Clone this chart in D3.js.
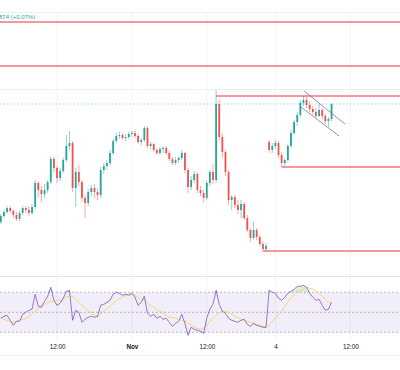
<!DOCTYPE html>
<html><head><meta charset="utf-8">
<script src="https://cdn.jsdelivr.net/npm/d3@7"></script>
<style>html,body{margin:0;padding:0;background:#fff;overflow:hidden}svg{display:block;font-family:"Liberation Sans",Arial,sans-serif}</style>
</head><body><svg id="c" width="400" height="370"></svg>
<script>
// 30-minute EURUSD candles; first slot = Oct 31 03:00, slot 0 = Oct 31 12:00
const slotStart = -18;
const open = [1.0839,1.0842,1.0844,1.0846,1.08445,1.08425,1.08405,1.08435,1.0846,1.0845,
 1.08435,1.08465,1.08585,1.0855,1.0853,1.0855,1.0859,1.08705,1.0866,1.0861,
 1.08645,1.087,1.0877,1.08785,1.0856,1.0864,1.0859,1.0851,1.08485,1.0854,
 1.0856,1.0854,1.08525,1.0865,1.0867,1.08685,1.08735,1.08795,1.0882,1.08825,
 1.0881,1.08815,1.0883,1.08835,1.0882,1.0879,1.088,1.0886,1.0877,1.0878,
 1.0875,1.08735,1.08755,1.0876,1.08735,1.08705,1.08685,1.087,1.0871,1.08735,
 1.0865,1.08565,1.086,1.0863,1.0855,1.08535,1.0851,1.08585,1.0864,1.086,
 1.0898,1.08815,1.0874,1.0864,1.085,1.08515,1.08475,1.0845,1.0848,1.0841,
 1.0835,1.0831,1.0835,1.08315,1.0828,1.08255,
 1.0879,1.0875,1.0877,1.08785,1.08725,1.08685,1.087,1.0877,1.08835,1.0889,
 1.08925,1.08985,1.09,1.08975,1.08955,1.0894,1.0892,1.0895,1.0892,1.08895,1.08905];
const high = [1.0843,1.0845,1.0847,1.0847,1.08455,1.0844,1.08445,1.0847,1.0847,1.0847,
 1.0848,1.086,1.08595,1.0857,1.0858,1.086,1.0872,1.08715,1.0867,1.0866,
 1.0871,1.08825,1.08845,1.08795,1.0866,1.08675,1.086,1.08525,1.08555,1.08575,
 1.0858,1.0856,1.08665,1.08685,1.087,1.0875,1.08805,1.08835,1.0884,1.08835,
 1.0883,1.0884,1.08845,1.08845,1.0883,1.0881,1.0887,1.0887,1.0879,1.08785,
 1.0876,1.08765,1.0877,1.0877,1.08745,1.08715,1.08715,1.0872,1.0875,1.0874,
 1.0866,1.0862,1.08645,1.0864,1.0857,1.0855,1.08595,1.0865,1.0868,1.0905,
 1.09,1.08835,1.0875,1.0865,1.08525,1.08525,1.085,1.085,1.0849,1.08425,
 1.0836,1.0839,1.0836,1.08325,1.08295,1.08285,
 1.088,1.08785,1.088,1.08795,1.0874,1.0871,1.0878,1.0885,1.089,1.0894,
 1.09,1.0902,1.09015,1.08995,1.0897,1.0896,1.0898,1.0896,1.0893,1.08915,1.08985];
const low = [1.0838,1.0841,1.0843,1.08435,1.0841,1.08395,1.08395,1.08425,1.08435,1.0842,
 1.08425,1.08455,1.0851,1.0849,1.0851,1.08535,1.0858,1.0864,1.08585,1.08595,
 1.08635,1.0869,1.0875,1.0854,1.08465,1.0857,1.0849,1.0841,1.0847,1.0852,
 1.0851,1.085,1.0851,1.0863,1.0865,1.08675,1.08725,1.08785,1.08805,1.088,
 1.08795,1.08805,1.08815,1.0881,1.0878,1.08775,1.0879,1.0876,1.08755,1.0874,
 1.08725,1.08725,1.08735,1.08725,1.08695,1.08675,1.08675,1.08685,1.087,1.08635,
 1.08535,1.0855,1.08585,1.08535,1.0852,1.0849,1.085,1.0857,1.0858,1.08585,
 1.088,1.0871,1.0862,1.08475,1.0845,1.0846,1.0843,1.0841,1.084,1.0834,
 1.0829,1.083,1.083,1.0827,1.08245,1.08245,
 1.08735,1.08735,1.08755,1.0871,1.08665,1.0867,1.0869,1.0876,1.08825,1.0887,
 1.08915,1.0897,1.0896,1.0894,1.08925,1.0891,1.08915,1.08905,1.0888,1.08865,1.08895];
const close = [1.0842,1.0844,1.0846,1.08445,1.08425,1.08405,1.08435,1.0846,1.0845,1.08435,
 1.08465,1.08585,1.0855,1.0853,1.0855,1.0859,1.08705,1.0866,1.0861,1.08645,
 1.087,1.0877,1.08785,1.0856,1.0864,1.0859,1.0851,1.08485,1.0854,1.0856,
 1.0854,1.08525,1.0865,1.0867,1.08685,1.08735,1.08795,1.0882,1.08825,1.0881,
 1.08815,1.0883,1.08835,1.0882,1.0879,1.088,1.0886,1.0877,1.0878,1.0875,
 1.08735,1.08755,1.0876,1.08735,1.08705,1.08685,1.087,1.0871,1.08735,1.0865,
 1.08565,1.086,1.0863,1.0855,1.08535,1.0851,1.08585,1.0864,1.086,1.0898,
 1.08815,1.0874,1.0864,1.085,1.08515,1.08475,1.0845,1.0848,1.0841,1.0835,
 1.0831,1.0835,1.08315,1.0828,1.08255,1.0827,
 1.0875,1.0877,1.08785,1.08725,1.08685,1.087,1.0877,1.08835,1.0889,1.08925,
 1.08985,1.09,1.08975,1.08955,1.0894,1.0892,1.0895,1.0892,1.08895,1.08905,1.0898];
const rsi = [44,46,47,42,37,41,41,48,50,52,
 53,68,56,55,61,66,75,62,57,59,
 64,71,72,42,52,50,40,43,45,46,
 45,46,57,58,60,62,68,70,69,67,
 68,67,69,65,57,60,66,49,46,48,
 44,46,43,44,40,36,39,41,48,39,
 27,35,33,32,31,29,44,53,58,72,
 58,51,49,44,42,41,40,42,43,38,
 36,39,37,36,35,35,
 72,70,69,64,62,65,69,71,73,76,
 76,77,75,69,65,62,63,57,52,53,60];
const rsiMa = [45,43,42,41,40,41,42,43,44,46,
 49,51,54,56,58,60,61,61,62,62,
 64,65,66,66,63,60,57,54,51,49,
 47,46,48,51,54,56,59,61,64,65,
 67,68,68,67,65,63,62,59,57,55,
 52,51,49,47,45,45,44,43,42,41,
 39,37,35,34,33,34,37,41,44,47,
 49,51,51,50,48,46,45,43,42,41,
 40,39,38,37,36,35,
 37,41,44,48,51,56,60,64,67,70,
 72,73,75,74,73,71,69,66,63,60,59];
const tickSlots = [0,24,48,70,94];
const tickLabels = ["12:00","Nov","12:00","4","12:00"];
const levelPrices = [1.0939,1.0917,1.0902,1.08665,1.08245];
const levelStartSlots = [-19,-19,51,72,66];
const channelUpper = [[79.2,1.09045],[92.3,1.0888]];
const channelLower = [[78.2,1.08965],[90.4,1.0882]];
const gridPrices = [1.0944,1.09055];
const rsiLevels = [70,50,30];
const legendText = "874 (+0.07%)";

const svg = d3.select("#c");
const W = 400;
const x = d3.scaleLinear().domain([-18.27,109.94]).range([0,W]);
const y = d3.scaleLinear().domain([1.0812,1.0950]).range([276,0]);
const ry = d3.scaleLinear().domain([30,70]).range([332.3,292.3]);
const UP = "#26a69a", DN = "#ef5350";

const candles = open.map((o,i)=>({s:slotStart+i,o,h:high[i],l:low[i],c:close[i],r:rsi[i],m:rsiMa[i]}));

svg.append("rect").attr("width",W).attr("height",370).attr("fill","#fff");
// vertical grid
svg.append("g").selectAll("line").data(tickSlots).join("line")
  .attr("x1",d=>x(d)).attr("x2",d=>x(d)).attr("y1",12).attr("y2",340)
  .attr("stroke","#f0f3fa").attr("stroke-width",1);
// horizontal grid
svg.append("g").selectAll("line").data(gridPrices).join("line")
  .attr("x1",0).attr("x2",W).attr("y1",d=>Math.round(y(d))+0.5).attr("y2",d=>Math.round(y(d))+0.5)
  .attr("stroke","#eceff4").attr("stroke-width",1);
// separators
svg.append("line").attr("x1",0).attr("x2",W).attr("y1",276.5).attr("y2",276.5).attr("stroke","#e0e3eb");
svg.append("line").attr("x1",0).attr("x2",W).attr("y1",355.5).attr("y2",355.5).attr("stroke","#eceff4");

svg.append("defs").html('<clipPath id="mp"><rect x="0" y="12" width="400" height="264"/></clipPath><clipPath id="rp"><rect x="0" y="277" width="400" height="63"/></clipPath>');
const main = svg.append("g").attr("clip-path","url(#mp)");

// level lines
main.append("g").selectAll("line").data(levelPrices).join("line")
  .attr("x1",(d,i)=>x(levelStartSlots[i])).attr("x2",W)
  .attr("y1",d=>y(d)).attr("y2",d=>y(d))
  .attr("stroke","#f23645").attr("stroke-opacity",0.7).attr("stroke-width",1.5);

// current price line
const last = close[close.length-1];
main.append("line").attr("x1",0).attr("x2",W).attr("y1",y(last)).attr("y2",y(last))
  .attr("stroke",UP).attr("stroke-opacity",0.4).attr("stroke-dasharray","1.5,2");

// candles
const cg = main.append("g");
cg.selectAll("line").data(candles).join("line")
  .attr("x1",d=>x(d.s)).attr("x2",d=>x(d.s)).attr("y1",d=>y(d.h)).attr("y2",d=>y(d.l))
  .attr("stroke",d=>d.c>=d.o?UP:DN).attr("stroke-opacity",0.5).attr("stroke-width",1);
cg.selectAll("rect").data(candles).join("rect")
  .attr("x",d=>x(d.s)-0.9).attr("width",1.8)
  .attr("y",d=>y(Math.max(d.o,d.c))).attr("height",d=>Math.max(1,Math.abs(y(d.o)-y(d.c))))
  .attr("fill",d=>d.c>=d.o?UP:DN);

// channel
[channelUpper,channelLower].forEach(ch=>{
  main.append("line").attr("x1",x(ch[0][0])).attr("y1",y(ch[0][1])).attr("x2",x(ch[1][0])).attr("y2",y(ch[1][1]))
    .attr("stroke","#787b86").attr("stroke-opacity",0.8).attr("stroke-width",1);
});

// legend text
svg.append("text").attr("x",-1).attr("y",18.5).attr("font-size",6).attr("fill",UP).text(legendText);

// RSI pane
const rp = svg.append("g").attr("clip-path","url(#rp)");
rp.append("rect").attr("x",0).attr("width",W).attr("y",ry(70)).attr("height",ry(30)-ry(70))
  .attr("fill","#7e57c2").attr("fill-opacity",0.1);
rp.append("g").selectAll("line").data(rsiLevels).join("line")
  .attr("x1",0).attr("x2",W).attr("y1",d=>ry(d)).attr("y2",d=>ry(d))
  .attr("stroke","#787b86").attr("stroke-opacity",0.5).attr("stroke-dasharray","2,2");
rp.append("path").datum(candles)
  .attr("d",d3.area().x(d=>x(d.s)).y0(ry(70)).y1(d=>ry(Math.max(70,d.r))))
  .attr("fill","#4caf50").attr("fill-opacity",0.2);
rp.append("path").datum(candles)
  .attr("d",d3.area().x(d=>x(d.s)).y0(ry(30)).y1(d=>ry(Math.min(30,d.r))))
  .attr("fill","#f23645").attr("fill-opacity",0.12);
rp.append("path").datum(candles)
  .attr("d",d3.line().x(d=>x(d.s)).y(d=>ry(d.m)).curve(d3.curveMonotoneX))
  .attr("fill","none").attr("stroke","#f5d76e").attr("stroke-width",1);
rp.append("path").datum(candles)
  .attr("d",d3.line().x(d=>x(d.s)).y(d=>ry(d.r)))
  .attr("fill","none").attr("stroke","#7e57c2").attr("stroke-opacity",0.8).attr("stroke-width",1);

// time axis
const ax = svg.append("g").attr("transform","translate(0,345)")
  .call(d3.axisBottom(x).tickValues(tickSlots).tickFormat((d,i)=>tickLabels[i]).tickSize(0).tickPadding(0));
ax.select(".domain").remove();
ax.selectAll("text").attr("font-size",6.3).attr("fill","#131722").attr("font-family","Liberation Sans, Arial, sans-serif")
  .attr("font-weight",(d,i)=>tickLabels[i]==="Nov"?"bold":"normal");
</script></body></html>
